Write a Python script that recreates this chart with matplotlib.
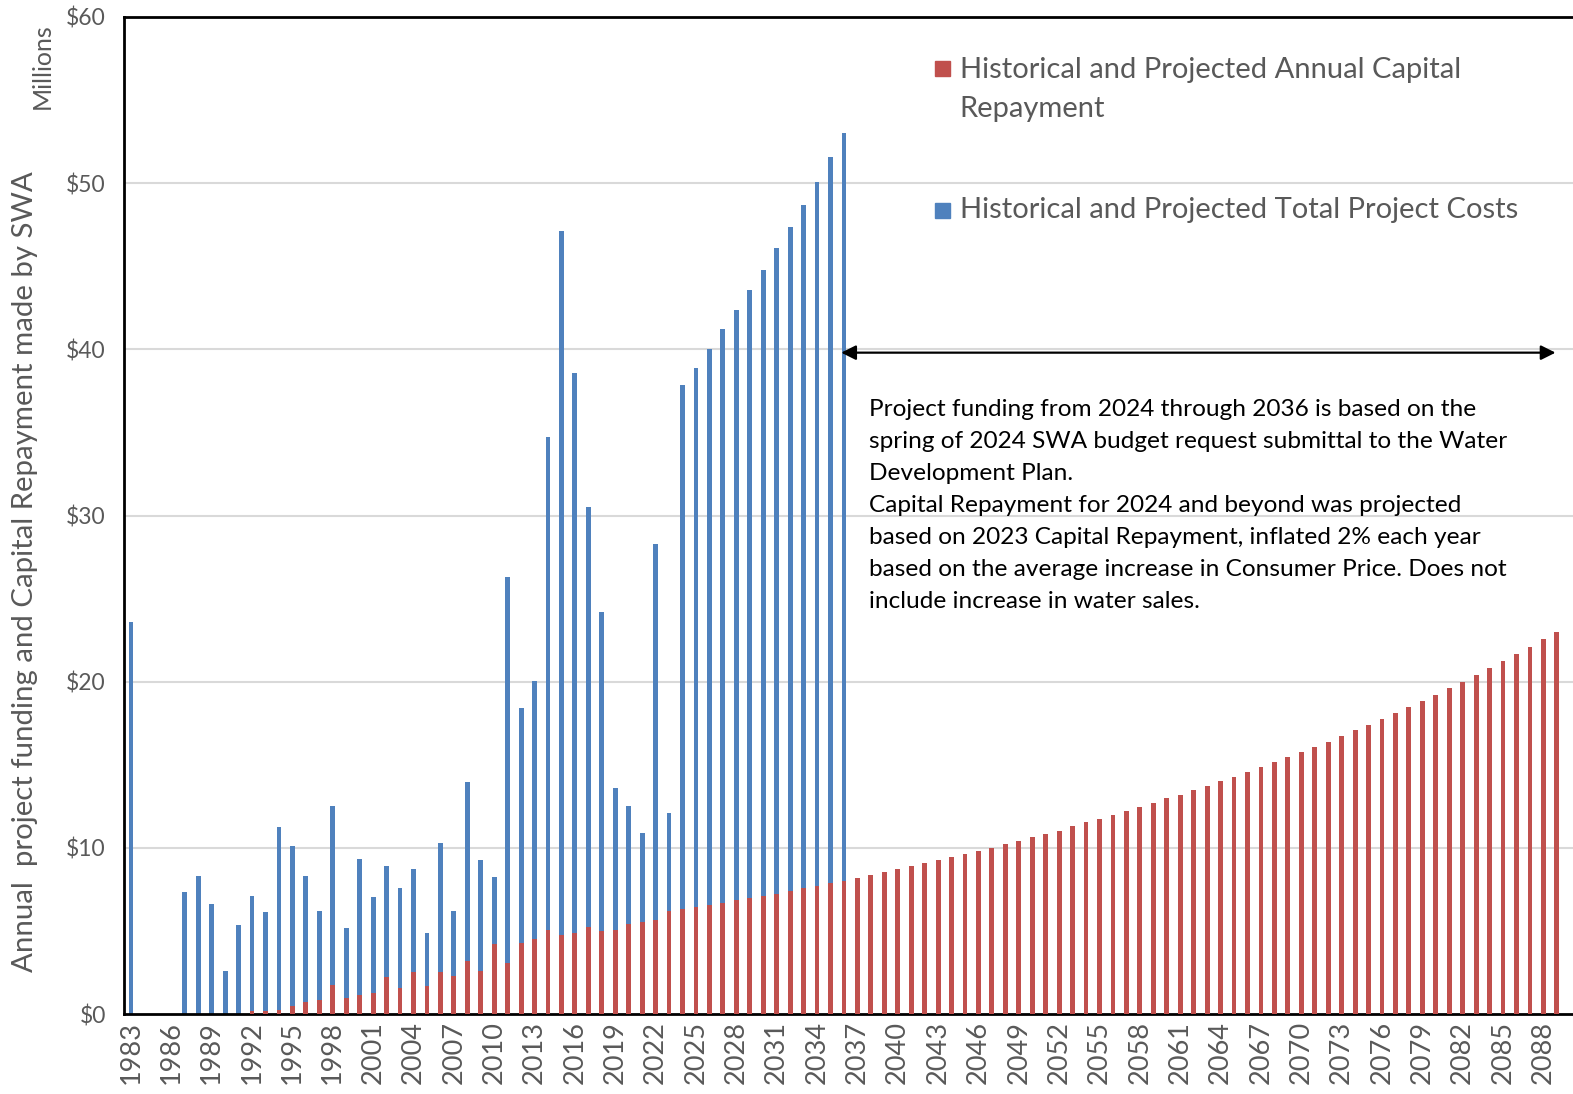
import matplotlib.pyplot as plt
from matplotlib.patches import Rectangle

plt.rcParams['font.family'] = ['Lato', 'DejaVu Sans']

# years on the category axis
years = list(range(1983, 2090))

# total project costs, $ millions, 1983-2036
total_costs = [23.6, 0, 0, 0, 7.37, 8.3, 6.63, 2.61, 5.33, 7.09,
               6.15, 11.28, 10.14, 8.3, 6.17, 12.53, 5.15, 9.32, 7.05, 8.92,
               7.56, 8.72, 4.89, 10.3, 6.21, 13.95, 9.24, 8.26, 26.3, 18.44,
               20.06, 34.75, 47.1, 38.6, 30.5, 24.2, 13.6, 12.5, 10.9, 28.3,
               12.1, 37.85, 38.9, 40.0, 41.2, 42.35, 43.55, 44.8, 46.1, 47.35,
               48.7, 50.1, 51.55, 53.0]

# annual capital repayment, $ millions, 1983-2089
repayment = [0, 0, 0, 0, 0, 0, 0, 0, 0,
             0.2, 0.2, 0.26, 0.48, 0.72, 0.84, 1.76, 0.98, 1.16, 1.28,
             2.24, 1.56, 2.52, 1.68, 2.52, 2.28, 3.19, 2.61, 4.21, 3.05,
             4.25, 4.49, 5.06, 4.75, 4.89, 5.22, 4.97, 5.05, 5.44, 5.52,
             5.68, 6.17, 6.32, 6.45, 6.58, 6.69, 6.86, 6.99, 7.13, 7.25,
             7.38, 7.57, 7.71, 7.88, 8.01, 8.19, 8.36, 8.52, 8.72, 8.90,
             9.08, 9.26, 9.44, 9.62, 9.82, 10.02, 10.24, 10.44, 10.64, 10.86,
             11.04, 11.29, 11.53, 11.75, 11.97, 12.21, 12.47, 12.71, 12.97,
             13.19, 13.47, 13.73, 14.01, 14.27, 14.55, 14.85, 15.15, 15.45, 15.77,
             16.07, 16.39, 16.73, 17.07, 17.41, 17.78, 18.10, 18.46, 18.84, 19.22,
             19.62, 20.00, 20.42, 20.80, 21.24, 21.64, 22.08, 22.55, 23.01]

tick_years = years[::3]

label_cap = "Historical and Projected Annual Capital\nRepayment"
label_tot = "Historical and Projected Total Project Costs"
note = ("Project funding from 2024 through 2036 is based on the\n"
        "spring of 2024 SWA budget request submittal to the Water\n"
        "Development Plan.\n"
        "Capital Repayment for 2024 and beyond was projected\n"
        "based on 2023 Capital Repayment, inflated 2% each year\n"
        "based on the average increase in Consumer Price. Does not\n"
        "include increase in water sales.")

blue = "#4F81BD"
red = "#C0504D"
grey = "#595959"

fig = plt.figure(figsize=(15.73, 10.94), dpi=100)
ax = fig.add_axes([124 / 1573, 80 / 1094, 1449 / 1573, 997 / 1094])

ax.bar(years[:len(total_costs)], total_costs, width=0.36, color=blue, zorder=2)
ax.bar(years, repayment, width=0.36, color=red, zorder=3)

ax.set_xlim(1982.48, 2090.2)
ax.set_ylim(0, 60)
ax.set_yticks(range(0, 61, 10))
ax.set_yticklabels(["$%d" % v for v in range(0, 61, 10)], fontsize=16.5, color=grey)
ax.set_xticks(tick_years)
ax.set_xticklabels([str(y) for y in tick_years], rotation=90, fontsize=19.5, color=grey)
ax.tick_params(length=0, pad=5)
ax.tick_params(axis='y', pad=13)

for v in range(10, 60, 10):
    ax.axhline(v, color="#D9D9D9", lw=1.5, zorder=1)

for s in ["left", "bottom", "top"]:
    ax.spines[s].set_color("black")
    ax.spines[s].set_linewidth(2)
ax.spines["right"].set_visible(False)

fig.text(25 / 1573, 1 - 572 / 1094, "Annual  project funding and Capital Repayment made by SWA",
         rotation=90, ha="center", va="center", fontsize=21.2, color=grey)
fig.text(42 / 1573, 1 - 66 / 1094, "Millions", rotation=90, ha="center", va="center",
         fontsize=18, color=grey)

# legend drawn by hand so the square sits on the first line
ax.add_patch(Rectangle((0.5597, 0.941), 0.0104, 0.0145, transform=ax.transAxes,
                       color=red, clip_on=False))
ax.text(0.5768, 0.947, label_cap.split("\n")[0], transform=ax.transAxes, fontsize=21,
        color=grey, va="center", ha="left")
ax.text(0.5768, 0.908, label_cap.split("\n")[1], transform=ax.transAxes, fontsize=21,
        color=grey, va="center", ha="left")
ax.add_patch(Rectangle((0.5597, 0.7985), 0.0104, 0.0145, transform=ax.transAxes,
                       color=blue, clip_on=False))
ax.text(0.5768, 0.806, label_tot, transform=ax.transAxes, fontsize=21, color=grey,
        va="center", ha="left")

ax.annotate("", xy=(2035.8, 39.8), xytext=(2088.9, 39.8),
            arrowprops=dict(arrowstyle="<|-|>", color="black", lw=1.6,
                            mutation_scale=22, shrinkA=0, shrinkB=0))

ax.text(0.514, 0.617, note, transform=ax.transAxes, fontsize=17.6, color="black",
        va="top", ha="left", linespacing=1.65)

plt.savefig("out.png", dpi=100)
